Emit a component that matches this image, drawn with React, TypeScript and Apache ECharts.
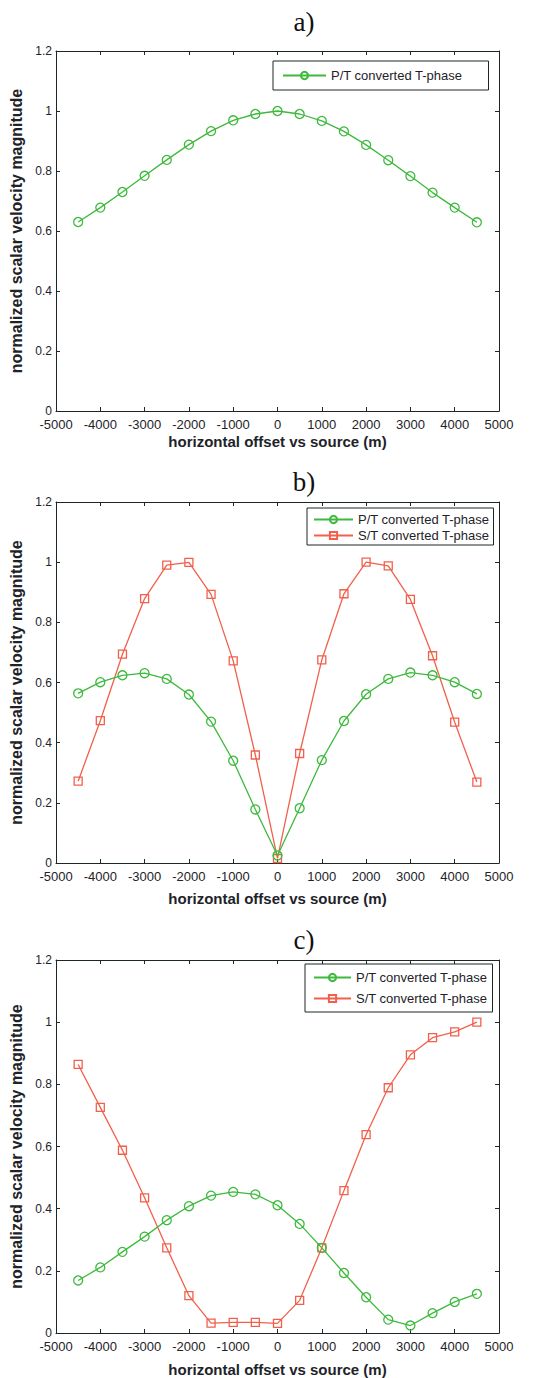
import React, { useEffect, useRef } from "react";
import * as echarts from "echarts";

const OFFSETS = [-4500, -4000, -3500, -3000, -2500, -2000, -1500, -1000, -500, 0, 500, 1000, 1500, 2000, 2500, 3000, 3500, 4000, 4500];

const A_PT = [0.63, 0.678, 0.73, 0.784, 0.837, 0.888, 0.933, 0.969, 0.99, 1.0, 0.99, 0.967, 0.932, 0.887, 0.836, 0.783, 0.728, 0.678, 0.629];

const B_PT = [0.564, 0.601, 0.624, 0.631, 0.612, 0.56, 0.47, 0.34, 0.178, 0.025, 0.182, 0.342, 0.472, 0.561, 0.612, 0.633, 0.624, 0.601, 0.562];
const B_ST = [0.272, 0.473, 0.694, 0.879, 0.99, 0.999, 0.893, 0.672, 0.359, 0.015, 0.364, 0.675, 0.895, 1.0, 0.988, 0.876, 0.689, 0.468, 0.269];

const C_PT = [0.169, 0.211, 0.261, 0.31, 0.363, 0.408, 0.442, 0.454, 0.446, 0.411, 0.351, 0.274, 0.193, 0.115, 0.043, 0.024, 0.064, 0.1, 0.126];
const C_ST = [0.864, 0.726, 0.588, 0.435, 0.274, 0.12, 0.032, 0.034, 0.034, 0.031, 0.105, 0.274, 0.458, 0.638, 0.789, 0.895, 0.95, 0.969, 1.0];

const PANEL_TITLES = ["a)", "b)", "c)"];
const PT_NAME = "P/T converted T-phase";
const ST_NAME = "S/T converted T-phase";
const X_NAME = "horizontal offset vs source (m)";
const Y_NAME = "normalized scalar velocity magnitude";

const GREEN = "#3dba3d";
const RED = "#f2604c";
const AXIS = "#1c2626";
const TEXT = "#1e2328";
const SANS = "Liberation Sans, Arial, sans-serif";

const pairs = (ys: number[]) => OFFSETS.map((x, i) => [x, ys[i]]);

export default function App() {
  const ref = useRef<HTMLDivElement>(null);
  useEffect(() => {
    document.body.style.margin = "0";
    if (!ref.current) return;
    const chart = echarts.init(ref.current, undefined, { renderer: "svg" });

    const grids = [
      { left: 56, top: 51, width: 443, height: 360 },
      { left: 56, top: 502, width: 443, height: 361 },
      { left: 56, top: 960, width: 443, height: 373 },
    ];
    const xNameGaps = [23, 27.5, 29];
    const titleYs = [22, 482, 940];

    const xAxes: any[] = [];
    const yAxes: any[] = [];
    grids.forEach((_, gi) => {
      xAxes.push({
        type: "value", gridIndex: gi, min: -5000, max: 5000, interval: 1000, position: "bottom",
        name: X_NAME, nameLocation: "middle", nameGap: xNameGaps[gi],
        nameTextStyle: { fontFamily: SANS, fontSize: 15, fontWeight: "bold", color: TEXT },
        axisLine: { onZero: false, lineStyle: { color: AXIS, width: 1 } },
        axisTick: { inside: true, length: 4, lineStyle: { color: AXIS } },
        axisLabel: { fontFamily: SANS, fontSize: 13, color: TEXT, margin: 7, formatter: (v: number) => String(v) },
        splitLine: { show: false },
      });
      xAxes.push({
        type: "value", gridIndex: gi, min: -5000, max: 5000, interval: 1000, position: "top",
        axisLine: { onZero: false, lineStyle: { color: AXIS, width: 1 } },
        axisTick: { inside: true, length: 4, lineStyle: { color: AXIS } },
        axisLabel: { show: false },
        splitLine: { show: false },
      });
      yAxes.push({
        type: "value", gridIndex: gi, min: 0, max: 1.2, interval: 0.2, position: "left",
        name: Y_NAME, nameLocation: "middle", nameGap: 23,
        nameTextStyle: { fontFamily: SANS, fontSize: 16, fontWeight: "bold", color: TEXT },
        axisLine: { show: true, onZero: false, lineStyle: { color: AXIS, width: 1 } },
        axisTick: { show: true, inside: true, length: 4, lineStyle: { color: AXIS } },
        axisLabel: { fontFamily: SANS, fontSize: 12, color: TEXT, margin: 4, formatter: (v: number) => String(Math.round(v * 10) / 10) },
        splitLine: { show: false },
      });
      yAxes.push({
        type: "value", gridIndex: gi, min: 0, max: 1.2, interval: 0.2, position: "right",
        axisLine: { show: true, onZero: false, lineStyle: { color: AXIS, width: 1 } },
        axisTick: { show: true, inside: true, length: 4, lineStyle: { color: AXIS } },
        axisLabel: { show: false },
        splitLine: { show: false },
      });
    });

    const mk = (name: string, gi: number, ys: number[], color: string, symbol: string, size: number) => ({
      type: "line",
      name,
      xAxisIndex: gi * 2,
      yAxisIndex: gi * 2,
      data: pairs(ys),
      symbol,
      symbolSize: size,
      showAllSymbol: true,
      lineStyle: { color, width: 1.3 },
      itemStyle: { color: "rgba(255,255,255,0)", borderColor: color, borderWidth: 1.3 },
      emphasis: { disabled: true },
      z: color === RED ? 3 : 4,
    });

    const series = [
      mk(PT_NAME, 0, A_PT, GREEN, "circle", 9),
      mk(PT_NAME, 1, B_PT, GREEN, "circle", 9),
      mk(ST_NAME, 1, B_ST, RED, "rect", 8),
      mk(PT_NAME, 2, C_PT, GREEN, "circle", 9),
      mk(ST_NAME, 2, C_ST, RED, "rect", 8),
    ];

    const legendBase = {
      orient: "vertical",
      backgroundColor: "#fff",
      borderColor: AXIS,
      borderWidth: 1,
      selectedMode: false,
      textStyle: { fontFamily: SANS, fontSize: 13, color: TEXT },
      itemHeight: 9,
    };

    const legends = [
      { ...legendBase, left: 273, top: 61, padding: [8, 26, 8, 9], itemWidth: 43, itemGap: 3, data: [PT_NAME] },
      { ...legendBase, left: 307, top: 508, padding: [5, 4, 3, 6], itemWidth: 39, itemGap: 3, data: [PT_NAME, ST_NAME] },
      { ...legendBase, left: 305, top: 964, padding: [7, 5, 7, 8], itemWidth: 37, itemGap: 8, data: [PT_NAME, ST_NAME] },
    ];

    chart.setOption({
      animation: false,
      backgroundColor: "#fff",
      grid: grids,
      xAxis: xAxes,
      yAxis: yAxes,
      legend: legends,
      series,
      graphic: PANEL_TITLES.map((t, i) => ({
        type: "text",
        x: 304,
        y: titleYs[i],
        style: {
          text: t,
          fontFamily: "Liberation Serif, Times New Roman, serif",
          fontSize: 27,
          fill: "#111",
          textAlign: "center",
          textVerticalAlign: "middle",
        },
      })),
    });

    return () => chart.dispose();
  }, []);
  return <div ref={ref} style={{ width: 559, height: 1378 }} />;
}
